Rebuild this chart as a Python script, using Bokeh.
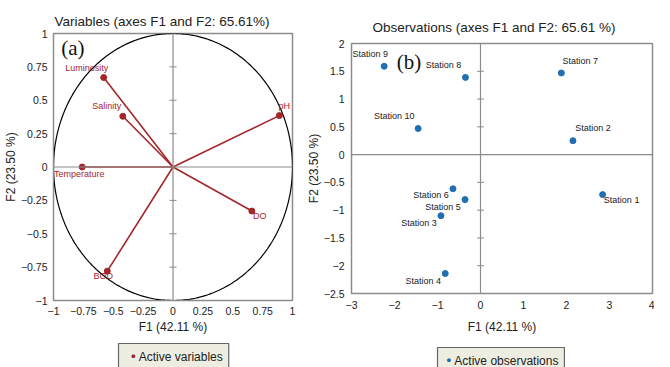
import numpy as np
from bokeh.plotting import figure
from bokeh.models import Span, Label, FixedTicker, Title
from bokeh.layouts import row, column
from bokeh.embed import file_html
from bokeh.resources import INLINE
from bokeh.core.properties import value

# ---------------- data ----------------
var_names = ["Luminosity", "Salinity", "pH", "Temperature", "DO", "BOD"]
var_f1 = [-0.58, -0.42, 0.89, -0.76, 0.66, -0.55]
var_f2 = [0.67, 0.38, 0.385, 0.0, -0.33, -0.78]

obs_names = ["Station 1", "Station 2", "Station 3", "Station 4", "Station 5",
             "Station 6", "Station 7", "Station 8", "Station 9", "Station 10"]
obs_f1 = [2.84, 2.15, -0.92, -0.82, -0.36, -0.64, 1.88, -0.35, -2.24, -1.45]
obs_f2 = [-0.72, 0.25, -1.10, -2.14, -0.81, -0.615, 1.47, 1.39, 1.59, 0.47]

left_ticks = [-1, -0.75, -0.5, -0.25, 0, 0.25, 0.5, 0.75, 1]
right_xticks = [-3, -2, -1, 0, 1, 2, 3, 4]
right_yticks = [-2.5, -2, -1.5, -1, -0.5, 0, 0.5, 1, 1.5, 2]

# ---------------- styles ----------------
FONT = "Liberation Sans"
RED = "#a3262b"
BLUE = "#1f6fb2"
FRAME = "#8c8c8c"
TXT = "#222222"

var_dx = [-17, -16, 5, -3, 8, -4]
var_dy = [-10, -10, -10, 7, 5, 5]
obs_dx = [19, 20, -22, -22, -22, -22, 19, -22, -14, -24]
obs_dy = [5, -13, 7, 7, 7, 6, -12, -12, -12, -13]


def style(p, xticks, yticks):
    p.xgrid.visible = False
    p.ygrid.visible = False
    p.outline_line_color = FRAME
    p.outline_line_width = 1.5
    for ax in (p.xaxis[0], p.yaxis[0]):
        ax.major_tick_out = 0
        ax.major_tick_in = 0
        ax.minor_tick_out = 0
        ax.minor_tick_in = 0
        ax.axis_line_color = FRAME
        ax.major_label_text_font = FONT
        ax.major_label_text_font_size = "10.5px"
        ax.major_label_text_color = TXT
        ax.axis_label_text_font = FONT
        ax.axis_label_text_font_size = "12px"
        ax.axis_label_text_font_style = "normal"
        ax.axis_label_text_color = TXT
    p.xaxis[0].ticker = FixedTicker(ticks=xticks)
    p.yaxis[0].ticker = FixedTicker(ticks=yticks)


def legend_fig(width, bl, br, text, lead, color, sx, sy):
    f = figure(width=width, height=31, min_border=0, min_border_left=bl,
               min_border_right=br, x_range=(0, 1), y_range=(0, 1),
               x_axis_location=None, y_axis_location=None,
               output_backend="svg", toolbar_location=None)
    f.outline_line_color = None
    f.xgrid.visible = False
    f.ygrid.visible = False
    f.add_layout(Label(x=sx, y=sy, x_units="screen", y_units="screen",
                       text=lead + "\u2022\u00a0" + text, text_font=FONT,
                       text_font_size="12px", text_color=TXT, text_baseline="middle",
                       background_fill_color="#eeede1", border_line_color="#666666",
                       border_line_width=1.2, padding=6))
    f.add_layout(Label(x=sx, y=sy, x_units="screen", y_units="screen",
                       text=lead + "\u2022", text_font=FONT, padding=6,
                       text_font_size="12px", text_color=color, text_baseline="middle"))
    return f


# ---------------- left: variables ----------------
p1 = figure(width=303, height=336, min_border_left=46, min_border_right=11,
            min_border_top=33, min_border_bottom=35,
            x_range=(-1, 1), y_range=(-1, 1),
            output_backend="svg", toolbar_location=None,
            x_axis_label="F1 (42.11 %)", y_axis_label="F2 (23.50 %)")
style(p1, left_ticks, left_ticks)
p1.xaxis[0].major_label_standoff = 6
p1.yaxis[0].major_label_standoff = 6
p1.xaxis[0].axis_label_standoff = 2
p1.yaxis[0].axis_label_standoff = 0
p1.title = Title(text="Variables (axes F1 and F2: 65.61%)", align="left", offset=1,
                 text_font=FONT, text_font_size="13.5px", text_font_style="normal",
                 text_color=TXT, standoff=9)

p1.add_layout(Span(location=0, dimension="height", line_color=FRAME, line_width=1.2))
p1.add_layout(Span(location=0, dimension="width", line_color=FRAME, line_width=1.2))
inner = [t for t in left_ticks if t not in (-1, 0, 1)]
p1.segment(x0=[-0.03] * len(inner), x1=[0.03] * len(inner), y0=inner, y1=inner,
           line_color=FRAME, line_width=1)

theta = np.linspace(0, 2 * np.pi, 400)
p1.line(np.cos(theta), np.sin(theta), line_color="black", line_width=1.2)

p1.segment(x0=[0] * len(var_f1), y0=[0] * len(var_f1), x1=var_f1, y1=var_f2,
           line_color=RED, line_width=1.6)
p1.scatter(var_f1, var_f2, size=6, color=RED)
p1.text(var_f1, var_f2, text=var_names, x_offset=var_dx, y_offset=var_dy,
        text_align="center", text_baseline="middle", text_color=RED,
        text_font=value(FONT), text_font_size="9px")

p1.add_layout(Label(x=-0.935, y=0.89, text="(a)", text_font="Liberation Serif",
                    text_font_size="21px", text_color="#111111", text_baseline="middle"))
leg1 = legend_fig(303, 46, 11, "Active variables", "\u00a0\u00a0", RED, 65, 11)

# ---------------- right: observations ----------------
p2 = figure(width=351, height=336, min_border_left=41, min_border_right=2,
            min_border_top=43, min_border_bottom=41,
            x_range=(-3, 4), y_range=(-2.5, 2),
            output_backend="svg", toolbar_location=None,
            x_axis_label="F1 (42.11 %)", y_axis_label="F2 (23.50 %)")
style(p2, right_xticks, right_yticks)
p2.xaxis[0].major_label_standoff = 7
p2.yaxis[0].major_label_standoff = 7
p2.xaxis[0].axis_label_standoff = 8
p2.yaxis[0].axis_label_standoff = 0
p2.title = Title(text="Observations (axes F1 and F2: 65.61 %)", align="left", offset=21,
                 text_font=FONT, text_font_size="13.5px", text_font_style="normal",
                 text_color=TXT, standoff=18)

p2.add_layout(Span(location=0, dimension="height", line_color=FRAME, line_width=1.2))
p2.add_layout(Span(location=0, dimension="width", line_color=FRAME, line_width=1.2))
inner2 = [t for t in right_yticks if t not in (-2.5, 0, 2)]
p2.segment(x0=[-0.08] * len(inner2), x1=[0.08] * len(inner2), y0=inner2, y1=inner2,
           line_color=FRAME, line_width=1)

p2.scatter(obs_f1, obs_f2, size=6, color=BLUE)
p2.text(obs_f1, obs_f2, text=obs_names, x_offset=obs_dx, y_offset=obs_dy,
        text_align="center", text_baseline="middle", text_color=TXT,
        text_font=value(FONT), text_font_size="9px")

p2.add_layout(Label(x=-1.95, y=1.66, text="(b)", text_font="Liberation Serif",
                    text_font_size="21px", text_color="#111111", text_baseline="middle"))
leg2 = legend_fig(351, 41, 2, "Active observations", "\u00a0", BLUE, 86, 7)

layout = row(column(p1, leg1), column(p2, leg2))
open("out.html", "w").write(file_html(layout, INLINE))
